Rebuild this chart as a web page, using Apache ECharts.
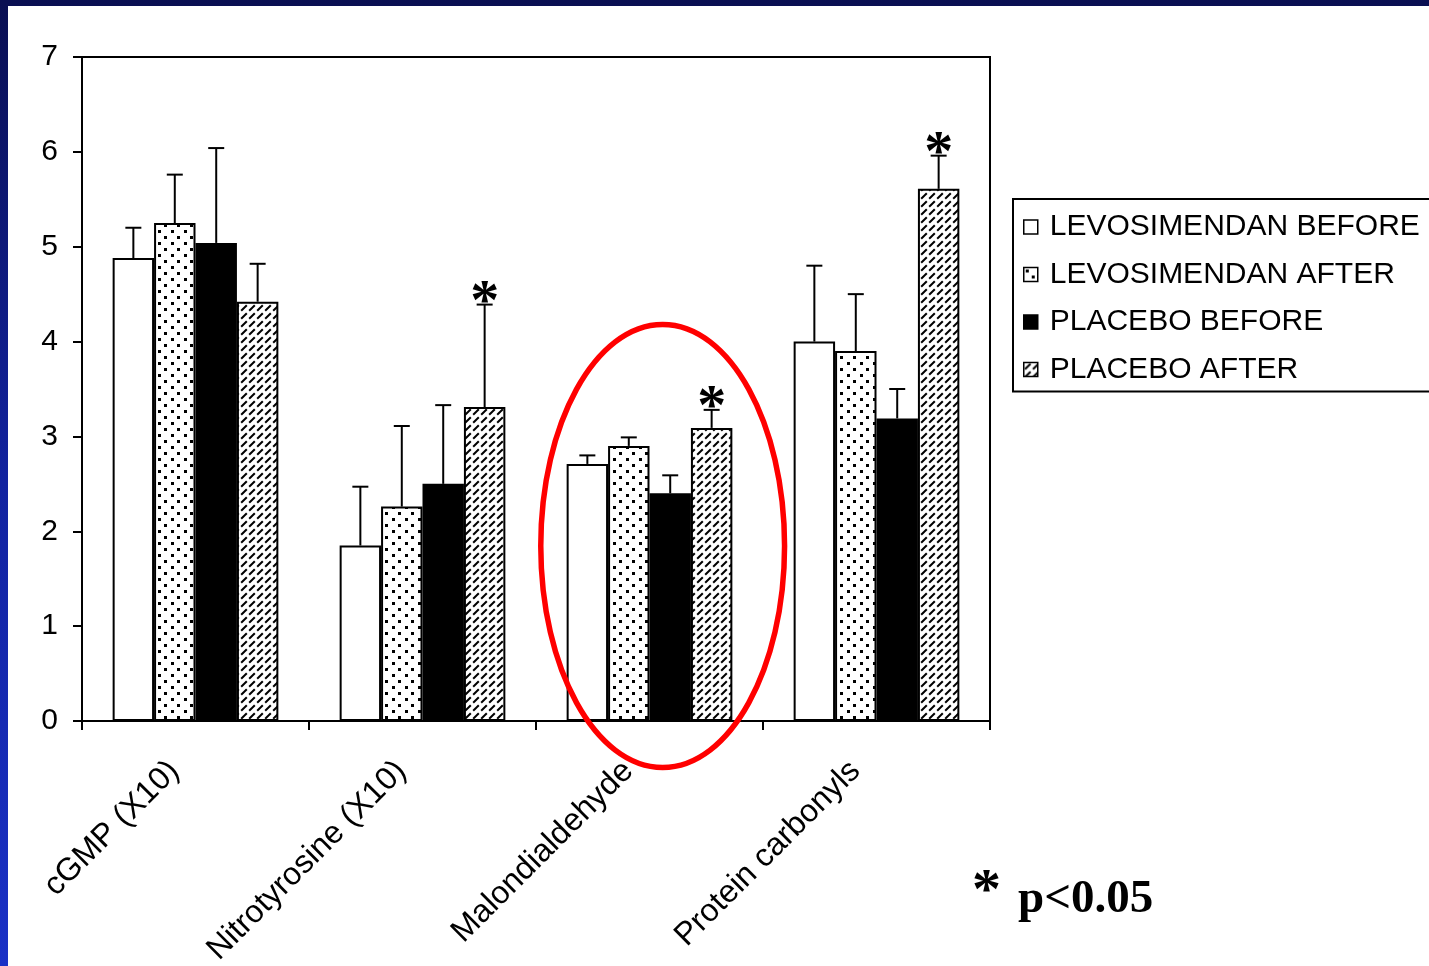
<!DOCTYPE html>
<html>
<head>
<meta charset="utf-8">
<script src="https://cdn.jsdelivr.net/npm/echarts@6/dist/echarts.min.js"></script>
<style>
  html, body { margin: 0; padding: 0; width: 1429px; height: 966px; overflow: hidden; }
  body { background: linear-gradient(to bottom, #0a0f52 0%, #1223a0 50%, #1a31c6 100%); }
  #sheet { position: absolute; left: 8px; top: 6px; right: 0; bottom: 0; background: #ffffff; }
  #chart { position: absolute; left: 0; top: 0; width: 1429px; height: 966px; }
</style>
</head>
<body>
<div id="sheet"></div>
<div id="chart"></div>
<script>
// Biomarker groups (cGMP and nitrotyrosine scaled x10)
const categories = ['cGMP (X10)', 'Nitrotyrosine (X10)', 'Malondialdehyde', 'Protein carbonyls'];
const seriesNames = ['LEVOSIMENDAN BEFORE', 'LEVOSIMENDAN AFTER', 'PLACEBO BEFORE', 'PLACEBO AFTER'];

// Means
const levoBefore    = [4.88, 1.85, 2.71, 4.00];
const levoAfter     = [5.25, 2.26, 2.90, 3.90];
const placeboBefore = [5.04, 2.50, 2.40, 3.19];
const placeboAfter  = [4.42, 3.31, 3.09, 5.61];

// Upper error (SD / SEM)
const levoBeforeErr    = [0.32, 0.62, 0.09, 0.80];
const levoAfterErr     = [0.51, 0.85, 0.09, 0.60];
const placeboBeforeErr = [1.00, 0.83, 0.19, 0.31];
const placeboAfterErr  = [0.40, 1.08, 0.19, 0.35];

// Significance flags (p<0.05)
const placeboAfterSig = [0, 1, 1, 1];

const yTicks = [0, 1, 2, 3, 4, 5, 6, 7];

const means = [levoBefore, levoAfter, placeboBefore, placeboAfter];
const errs = [levoBeforeErr, levoAfterErr, placeboBeforeErr, placeboAfterErr];
const sigs = [[0, 0, 0, 0], [0, 0, 0, 0], [0, 0, 0, 0], placeboAfterSig];

const CAT_GAP = 0.27;
const FONT = '"Liberation Sans", Arial, sans-serif';
const SERIF = '"Liberation Serif", "Times New Roman", serif';

// Fill patterns
function dotTile() {
  const c = document.createElement('canvas');
  c.width = 13; c.height = 12;
  const g = c.getContext('2d');
  g.fillStyle = '#fff'; g.fillRect(0, 0, 13, 12);
  g.fillStyle = '#000';
  g.fillRect(2, 2, 3, 3);
  g.fillRect(8, 8, 3, 3);
  return c;
}
function hatchTile() {
  const c = document.createElement('canvas');
  c.width = 8; c.height = 8;
  const g = c.getContext('2d');
  g.fillStyle = '#fff'; g.fillRect(0, 0, 8, 8);
  g.strokeStyle = '#000'; g.lineWidth = 2; g.lineCap = 'butt';
  g.beginPath(); g.moveTo(1.2, 6.8); g.lineTo(6.8, 1.2); g.stroke();
  return c;
}
const fills = [
  '#ffffff',
  { image: dotTile(), repeat: 'repeat' },
  '#000000',
  { image: hatchTile(), repeat: 'repeat' }
];

const barSeries = seriesNames.map((name, i) => ({
  name: name,
  type: 'bar',
  data: means[i],
  barGap: '0%',
  barCategoryGap: (CAT_GAP * 100) + '%',
  itemStyle: { color: fills[i], borderColor: '#000', borderWidth: 2 },
  emphasis: { disabled: true },
  z: 2
}));

// Error bar rows: [category, series, mean, err, sig]
const errRows = [];
for (let s = 0; s < 4; s++) {
  for (let c = 0; c < categories.length; c++) {
    errRows.push([c, s, means[s][c], errs[s][c], sigs[s][c]]);
  }
}

const errorSeries = {
  type: 'custom',
  name: 'error',
  data: errRows,
  encode: { x: 0, y: 2 },
  z: 5,
  silent: true,
  renderItem: function (params, api) {
    const ci = api.value(0), si = api.value(1), v = api.value(2), e = api.value(3), sig = api.value(4);
    const base = api.coord([ci, v]);
    const top = api.coord([ci, v + e]);
    const band = api.size([1, 0])[0];
    const bw = band * (1 - CAT_GAP) / 4;
    const x = base[0] + (si - 1.5) * bw;
    const style = { stroke: '#000', lineWidth: 2 };
    const children = [
      { type: 'line', shape: { x1: x, y1: base[1], x2: x, y2: top[1] }, style: style },
      { type: 'line', shape: { x1: x - 8, y1: top[1], x2: x + 8, y2: top[1] }, style: style }
    ];
    if (sig) {
      children.push({
        type: 'text',
        style: {
          text: '*', x: x, y: top[1] - 1,
          font: 'bold 58px ' + SERIF,
          fill: '#000', align: 'center', verticalAlign: 'middle'
        }
      });
    }
    return { type: 'group', children: children };
  }
};

const chart = echarts.init(document.getElementById('chart'), null, { renderer: 'canvas' });

const option = {
  backgroundColor: 'transparent',
  animation: false,
  grid: {
    left: 82, right: 439, top: 57, bottom: 245,
    containLabel: false, outerBoundsMode: 'none',
    show: true, borderColor: '#000', borderWidth: 2, backgroundColor: 'transparent'
  },
  legend: {
    data: seriesNames,
    orient: 'vertical',
    left: 1013, top: 199,
    itemWidth: 14, itemHeight: 14,
    itemGap: 17.5,
    padding: [13, 40, 7, 10],
    borderColor: '#000', borderWidth: 2,
    icon: 'rect',
    selectedMode: false,
    itemStyle: { borderColor: '#000', borderWidth: 1.5 },
    textStyle: { fontFamily: FONT, fontSize: 30, color: '#000', padding: [0, 0, 0, 7] }
  },
  xAxis: {
    type: 'category',
    data: categories,
    axisLine: { lineStyle: { color: '#000', width: 2 } },
    axisTick: { show: true, alignWithLabel: false, length: 9, lineStyle: { color: '#000', width: 2 } },
    axisLabel: {
      rotate: 45, interval: 0, margin: 24,
      fontFamily: FONT, fontSize: 32, color: '#000',
      padding: [0, 30, 0, 0]
    },
    splitLine: { show: false }
  },
  yAxis: {
    type: 'value',
    min: 0, max: 7, interval: 1,
    axisLine: { show: true, lineStyle: { color: '#000', width: 2 } },
    axisTick: { show: true, length: 9, lineStyle: { color: '#000', width: 2 } },
    axisLabel: {
      margin: 24, fontFamily: FONT, fontSize: 30, color: '#000',
      formatter: v => (yTicks.indexOf(v) >= 0 ? String(v) : '')
    },
    splitLine: { show: false }
  },
  series: barSeries.concat([errorSeries])
};
chart.setOption(option);

// Highlight ring around the Malondialdehyde group, plus the significance key
function placeAnnotations() {
  const ci = categories.indexOf('Malondialdehyde');
  const c0 = chart.convertToPixel({ gridIndex: 0 }, [ci, 0]);
  const cTop = chart.convertToPixel({ gridIndex: 0 }, [ci, 4.18]);
  const cBot = chart.convertToPixel({ gridIndex: 0 }, [ci, -0.49]);
  const c1 = chart.convertToPixel({ gridIndex: 0 }, [ci + 1, 0]);
  const band = c1[0] - c0[0];
  const cx = c0[0] + band * 0.058;
  chart.setOption({
    graphic: [
      {
        type: 'ellipse', z: 10, silent: true,
        shape: { cx: cx, cy: (cTop[1] + cBot[1]) / 2, rx: band * 0.537, ry: (cBot[1] - cTop[1]) / 2 },
        style: { fill: 'none', stroke: '#ff0000', lineWidth: 5.5 }
      },
      {
        type: 'text', z: 10, silent: true, left: 972, top: 864,
        style: { text: '*', font: 'bold 58px ' + SERIF, fill: '#000' }
      },
      {
        type: 'text', z: 10, silent: true, left: 1018, top: 876,
        style: { text: 'p<0.05', font: 'bold 47px ' + SERIF, fill: '#000' }
      }
    ]
  });
}
placeAnnotations();
</script>
</body>
</html>
